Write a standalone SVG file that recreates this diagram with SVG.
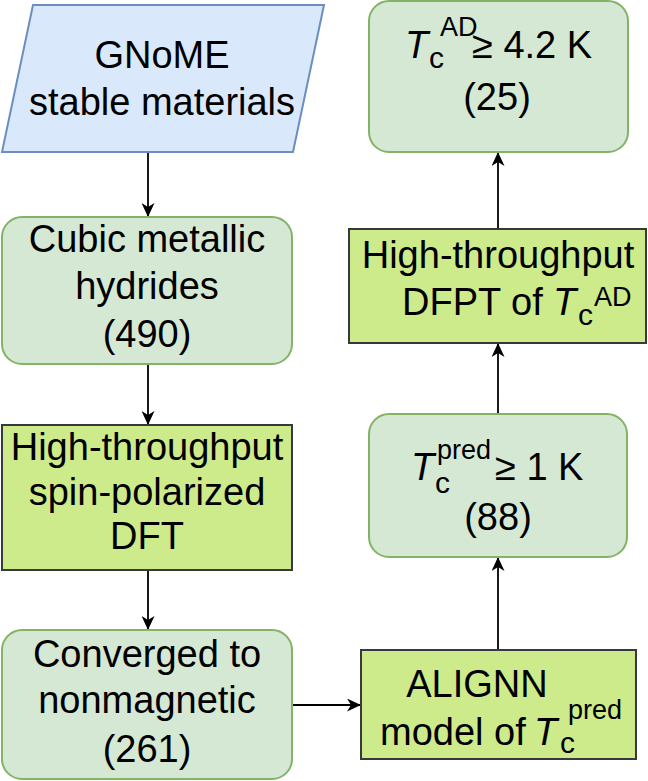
<svg xmlns="http://www.w3.org/2000/svg" width="648" height="781" viewBox="0 0 648 781">
<defs>
<style>
text{font-family:"Liberation Sans",Arial,Helvetica,sans-serif;font-size:38px;fill:#000}
.c{text-anchor:middle}
.i{font-style:italic}
.s{font-size:30px}
.p{font-size:27px}
.res{fill:#d5e8d4;stroke:#82b366;stroke-width:2}
.proc{fill:#cdeb8b;stroke:#36393d;stroke-width:2}
.inp{fill:#dae8fc;stroke:#6c8ebf;stroke-width:2}
.edge{fill:none;stroke:#000;stroke-width:1.8}
</style>
<marker id="ah" markerWidth="15" markerHeight="13" refX="13" refY="6.5" orient="auto" markerUnits="userSpaceOnUse">
<path d="M0,0 L14,6.5 L0,13 L4,6.5 Z" fill="#000"/>
</marker>
</defs>
<rect width="648" height="781" fill="#fff"/>
<g id="connectors">
<path class="edge" d="M148,152 L148,216" marker-end="url(#ah)"/>
<path class="edge" d="M148,364 L148,424" marker-end="url(#ah)"/>
<path class="edge" d="M148,570 L148,629" marker-end="url(#ah)"/>
<path class="edge" d="M292,705 L360,705" marker-end="url(#ah)"/>
<path class="edge" d="M498,650 L498,558" marker-end="url(#ah)"/>
<path class="edge" d="M498,414 L498,344" marker-end="url(#ah)"/>
<path class="edge" d="M498,229 L498,153" marker-end="url(#ah)"/>
</g>
<g id="gnome">
<polygon class="inp" points="33,5 324,5 293,152 2,152"/>
<text class="c" x="162" y="68">GNoME</text>
<text class="c" x="162" y="115">stable materials</text>
</g>
<g id="cubic">
<rect class="res" x="2" y="217" width="290" height="147" rx="20"/>
<text class="c" x="147" y="252">Cubic metallic</text>
<text class="c" x="147" y="299">hydrides</text>
<text class="c" x="147" y="347">(490)</text>
</g>
<g id="spin-dft">
<rect class="proc" x="2" y="425" width="290" height="145"/>
<text class="c" x="147" y="460">High-throughput</text>
<text class="c" x="147" y="505">spin-polarized</text>
<text class="c" x="147" y="549">DFT</text>
</g>
<g id="converged">
<rect class="res" x="2" y="630" width="290" height="149" rx="20"/>
<text class="c" x="147" y="667">Converged to</text>
<text class="c" x="147" y="713">nonmagnetic</text>
<text class="c" x="147" y="762">(261)</text>
</g>
<g id="alignn">
<rect class="proc" x="361" y="650" width="275" height="109"/>
<text class="c" x="477" y="697">ALIGNN</text>
<text x="380" y="745">model of <tspan class="i" x="534">T</tspan><tspan class="s" x="560" y="753">c</tspan><tspan class="p" x="568" y="719">pred</tspan></text>
</g>
<g id="tc-pred">
<rect class="res" x="369" y="414" width="258" height="143" rx="20"/>
<text x="411" y="480"><tspan class="i">T</tspan><tspan class="s" x="435" y="493">c</tspan><tspan class="p" x="437" y="459">pred</tspan><tspan x="495" y="480">≥ 1 K</tspan></text>
<text class="c" x="498" y="530">(88)</text>
</g>
<g id="dfpt">
<rect class="proc" x="349" y="229" width="297" height="114"/>
<text class="c" x="498" y="268">High-throughput</text>
<text x="402" y="315">DFPT of <tspan class="i" x="553">T</tspan><tspan class="s" x="578" y="325">c</tspan><tspan class="p" x="594" y="306">AD</tspan></text>
</g>
<g id="tc-ad">
<rect class="res" x="369" y="1" width="259" height="151" rx="20"/>
<text x="405" y="58"><tspan class="i">T</tspan><tspan class="s" x="429" y="68">c</tspan><tspan class="p" x="440" y="36">AD</tspan><tspan x="472" y="58">≥ 4.2 K</tspan></text>
<text class="c" x="497" y="110">(25)</text>
</g>
</svg>
